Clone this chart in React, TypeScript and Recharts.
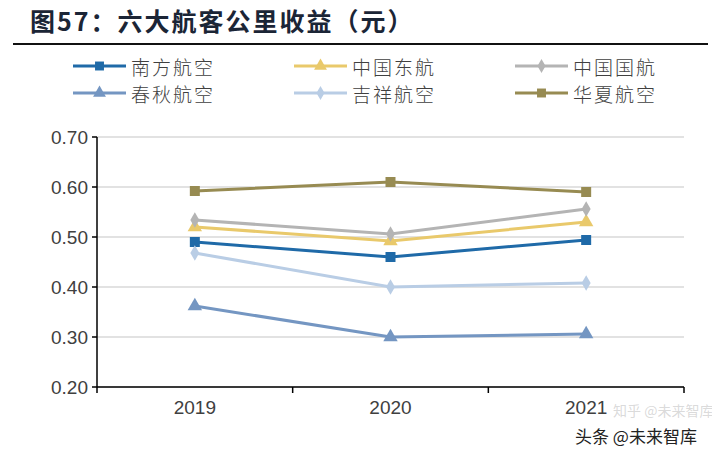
import { LineChart, Line, XAxis, YAxis, CartesianGrid, Symbols } from "recharts"

const years = ["2019", "2020", "2021"]
const southern = [0.49, 0.46, 0.494]
const eastern = [0.52, 0.492, 0.53]
const airChina = [0.534, 0.506, 0.556]
const spring = [0.362, 0.3, 0.306]
const juneyao = [0.468, 0.4, 0.408]
const chinaExpress = [0.592, 0.61, 0.59]
const yTicks = [0.2, 0.3, 0.4, 0.5, 0.6, 0.7]

const series = [
  { key: "southern", name: "南方航空", values: southern, color: "#1f6aa8", shape: "square" },
  { key: "eastern", name: "中国东航", values: eastern, color: "#e9c96b", shape: "triangle" },
  { key: "airChina", name: "中国国航", values: airChina, color: "#b4b4b4", shape: "diamond" },
  { key: "spring", name: "春秋航空", values: spring, color: "#7496c2", shape: "triangle" },
  { key: "juneyao", name: "吉祥航空", values: juneyao, color: "#b9cde5", shape: "diamond" },
  { key: "chinaExpress", name: "华夏航空", values: chinaExpress, color: "#978b52", shape: "square" },
]

const data = years.map((year, i) => {
  const row: Record<string, string | number> = { year }
  series.forEach((s) => (row[s.key] = s.values[i]))
  return row
})

const markerSize: Record<string, number> = { square: 100, triangle: 90, diamond: 70 }

function makeDot(shape: string, color: string) {
  return (props: any) => {
    const { cx, cy, index } = props
    if (cx == null || cy == null) return <g key={index} />
    return (
      <Symbols
        key={index}
        cx={cx}
        cy={cy}
        type={shape as any}
        size={markerSize[shape]}
        fill={color}
        stroke="none"
      />
    )
  }
}

// x labels sit in the middle of each band, tick marks go on the band edges
const TICK_SIZE = 6
const TICK_MARGIN = 8
function YearTick(props: any) {
  const { x, y, payload, index, visibleTicksCount } = props
  const half = payload?.offset ?? 0
  const axisY = y - TICK_SIZE - TICK_MARGIN
  const isLast = index === visibleTicksCount - 1
  return (
    <g>
      <line x1={x - half} y1={axisY} x2={x - half} y2={axisY + TICK_SIZE} stroke="#000" strokeWidth={1.5} />
      {isLast && <line x1={x + half} y1={axisY} x2={x + half} y2={axisY + TICK_SIZE} stroke="#000" strokeWidth={1.5} />}
      <text
        x={x}
        y={y}
        dy="0.71em"
        textAnchor="middle"
        fontSize={19}
        fill="#404040"
        fontFamily="'Liberation Sans', Arial, sans-serif"
      >
        {payload.value}
      </text>
    </g>
  )
}

const legendCols = [73, 294, 515]
const legendRows = [66, 93]

export default function App() {
  return (
    <div style={{ position: "relative", width: 720, height: 456, background: "#fff", margin: -8 }}>
      <div
        style={{
          position: "absolute",
          left: 30,
          top: 2,
          fontFamily: "'Noto Sans CJK SC', sans-serif",
          fontWeight: 700,
          fontSize: 25,
          color: "#1b2536",
          letterSpacing: 2,
        }}
      >
        图57：六大航客公里收益（元）
      </div>
      <div style={{ position: "absolute", left: 13, top: 43, width: 695, height: 2, background: "#111" }} />

      {series.map((s, i) => {
        const x = legendCols[i % 3]
        const y = legendRows[Math.floor(i / 3)]
        return (
          <div key={s.key} style={{ position: "absolute", left: x, top: y - 13, height: 26, display: "flex", alignItems: "center" }}>
            <svg width={53} height={26}>
              <line x1={0} y1={13} x2={53} y2={13} stroke={s.color} strokeWidth={3} />
              <Symbols cx={26.5} cy={13} type={s.shape as any} size={markerSize[s.shape] * 0.8} fill={s.color} />
            </svg>
            <span
              style={{
                marginLeft: 5,
                fontFamily: "'Noto Sans CJK SC', sans-serif",
                fontWeight: 300,
                fontSize: 19,
                color: "#404040",
                letterSpacing: 2,
              }}
            >
              {s.name}
            </span>
          </div>
        )
      })}

      <div style={{ position: "absolute", left: 0, top: 0 }}>
        <LineChart width={720} height={456} data={data} margin={{ top: 137, right: 36, bottom: 39, left: 37 }}>
          <CartesianGrid horizontal vertical={false} stroke="#d9d9d9" strokeWidth={1.5} />
          <XAxis
            dataKey="year"
            scale="band"
            height={30}
            axisLine={{ stroke: "#000", strokeWidth: 1.5 }}
            tickLine={false}
            tickSize={TICK_SIZE}
            tickMargin={TICK_MARGIN}
            tick={<YearTick />}
          />
          <YAxis
            width={60}
            domain={[0.2, 0.7]}
            ticks={yTicks}
            allowDataOverflow
            tickFormatter={(v: number) => v.toFixed(2)}
            axisLine={{ stroke: "#000", strokeWidth: 1.5 }}
            tickLine={{ stroke: "#000", strokeWidth: 1.5 }}
            tickSize={5}
            tickMargin={4}
            tick={{ fontSize: 19, fill: "#404040", fontFamily: "'Liberation Sans', Arial, sans-serif" }}
          />
          {series.map((s) => (
            <Line
              key={s.key}
              dataKey={s.key}
              name={s.name}
              stroke={s.color}
              strokeWidth={3}
              isAnimationActive={false}
              dot={makeDot(s.shape, s.color)}
              activeDot={false}
            />
          ))}
        </LineChart>
      </div>

      <div
        style={{
          position: "absolute",
          left: 613,
          top: 400,
          whiteSpace: "nowrap",
          fontFamily: "'Noto Sans CJK SC', sans-serif",
          fontSize: 14,
          color: "rgba(160,160,160,0.4)",
        }}
      >
        知乎 @未来智库
      </div>
      <div
        style={{
          position: "absolute",
          left: 575,
          top: 423,
          whiteSpace: "nowrap",
          fontFamily: "'Noto Sans CJK SC', sans-serif",
          fontSize: 17,
          color: "#222",
          textShadow: "0 0 2px #fff, 0 0 2px #fff",
        }}
      >
        头条 @未来智库
      </div>
    </div>
  )
}
